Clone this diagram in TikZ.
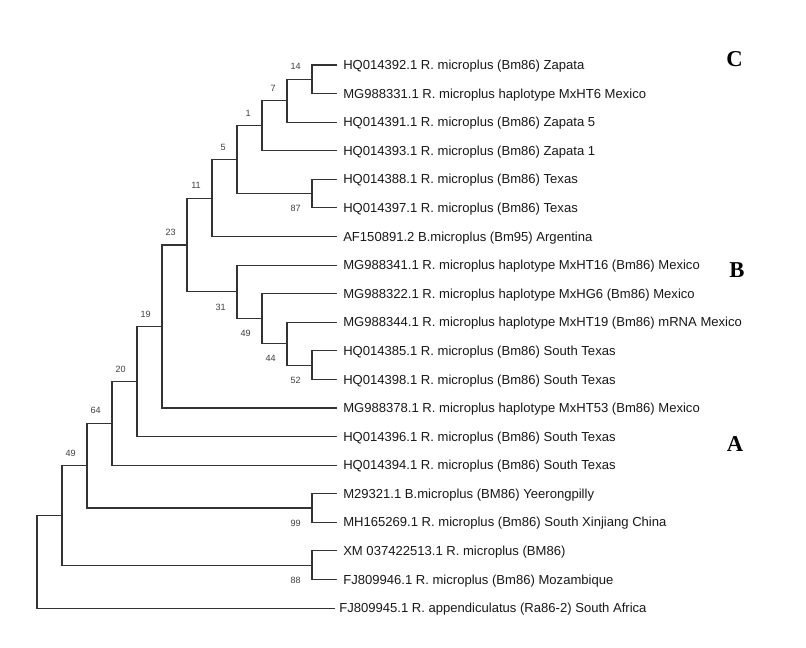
\documentclass[tikz,border=0pt]{standalone}
\usepackage{fontspec}
\setmainfont{Liberation Sans}
\newfontfamily\cladefont{Liberation Serif}
\begin{document}
\begin{tikzpicture}[x=0.75pt,y=-0.75pt,
  branch/.style={draw=black!80,line width=0.8pt},
  leaf/.style={anchor=west,inner xsep=4.5pt,inner ysep=0pt,text height=7pt,text depth=0pt,font=\fontsize{9.8}{11}\selectfont,text=black!90},
  bsup/.style={anchor=east,inner sep=0pt,xshift=-8.3pt,yshift=9.4pt,font=\fontsize{6.8}{7}\selectfont,text=black!75},
  bsdown/.style={anchor=east,inner sep=0pt,xshift=-8.3pt,yshift=-11.3pt,font=\fontsize{6.8}{7}\selectfont,text=black!75},
  clade/.style={font=\cladefont\bfseries\fontsize{17}{18}\selectfont,inner sep=0pt}]
\useasboundingbox[fill=white] (0,0) rectangle (806,647);
% leaves
\node[leaf] (L1) at (337,65) {HQ014392.1 R. microplus (Bm86) Zapata};
\node[leaf] (L2) at (337,93.58) {MG988331.1 R. microplus haplotype MxHT6 Mexico};
\node[leaf] (L3) at (337,122.16) {HQ014391.1 R. microplus (Bm86) Zapata 5};
\node[leaf] (L4) at (337,150.74) {HQ014393.1 R. microplus (Bm86) Zapata 1};
\node[leaf] (L5) at (337,179.32) {HQ014388.1 R. microplus (Bm86) Texas};
\node[leaf] (L6) at (337,207.9) {HQ014397.1 R. microplus (Bm86) Texas};
\node[leaf] (L7) at (337,236.48) {AF150891.2 B.microplus (Bm95) Argentina};
\node[leaf] (L8) at (337,265.06) {MG988341.1 R. microplus haplotype MxHT16 (Bm86) Mexico};
\node[leaf] (L9) at (337,293.64) {MG988322.1 R. microplus haplotype MxHG6 (Bm86) Mexico};
\node[leaf] (L10) at (337,322.22) {MG988344.1 R. microplus haplotype MxHT19 (Bm86) mRNA Mexico};
\node[leaf] (L11) at (337,350.8) {HQ014385.1 R. microplus (Bm86) South Texas};
\node[leaf] (L12) at (337,379.38) {HQ014398.1 R. microplus (Bm86) South Texas};
\node[leaf] (L13) at (337,407.96) {MG988378.1 R. microplus haplotype MxHT53 (Bm86) Mexico};
\node[leaf] (L14) at (337,436.54) {HQ014396.1 R. microplus (Bm86) South Texas};
\node[leaf] (L15) at (337,465.12) {HQ014394.1 R. microplus (Bm86) South Texas};
\node[leaf] (L16) at (337,493.7) {M29321.1 B.microplus (BM86) Yeerongpilly};
\node[leaf] (L17) at (337,522.28) {MH165269.1 R. microplus (Bm86) South Xinjiang China};
\node[leaf] (L18) at (337,550.86) {XM 037422513.1 R. microplus (BM86)};
\node[leaf] (L19) at (337,579.44) {FJ809946.1 R. microplus (Bm86) Mozambique};
\node[leaf,inner xsep=3pt] (L20) at (335,608.02) {FJ809945.1 R. appendiculatus (Ra86-2) South Africa};
% internal nodes
\coordinate (n14) at (312,79.29);
\coordinate (n7) at (287,100.7);
\coordinate (n1) at (262,125.7);
\coordinate (n87) at (312,193.6);
\coordinate (n5) at (237,159.7);
\coordinate (n11) at (212,198.1);
\coordinate (n52) at (312,365.1);
\coordinate (n44) at (287,343.7);
\coordinate (n49b) at (262,318.7);
\coordinate (n31) at (237,291.9);
\coordinate (n23) at (187,245);
\coordinate (n19) at (162,326.5);
\coordinate (n20) at (137,381.5);
\coordinate (n64) at (112,423.3);
\coordinate (n99) at (312,508);
\coordinate (n49a) at (87,465.7);
\coordinate (n88) at (312,565.15);
\coordinate (nr1) at (62,515.4);
\coordinate (root) at (37,561.7);
% branches
\draw[branch] (L1.west) -| (n14) |- (L2.west);
\draw[branch] (n14) -| (n7) |- (L3.west);
\draw[branch] (n7) -| (n1) |- (L4.west);
\draw[branch] (L5.west) -| (n87) |- (L6.west);
\draw[branch] (n1) -| (n5) |- (n87);
\draw[branch] (n5) -| (n11) |- (L7.west);
\draw[branch] (L11.west) -| (n52) |- (L12.west);
\draw[branch] (L10.west) -| (n44) |- (n52);
\draw[branch] (L9.west) -| (n49b) |- (n44);
\draw[branch] (L8.west) -| (n31) |- (n49b);
\draw[branch] (n11) -| (n23) |- (n31);
\draw[branch] (n23) -| (n19) |- (L13.west);
\draw[branch] (n19) -| (n20) |- (L14.west);
\draw[branch] (n20) -| (n64) |- (L15.west);
\draw[branch] (L16.west) -| (n99) |- (L17.west);
\draw[branch] (n64) -| (n49a) |- (n99);
\draw[branch] (L18.west) -| (n88) |- (L19.west);
\draw[branch] (n49a) -| (nr1) |- (n88);
\draw[branch] (nr1) -| (root) |- (L20.west);
% bootstrap values
\node[bsup] (b14) at (n14) {14};
\node[bsup] (b7) at (n7) {7};
\node[bsup] (b1) at (n1) {1};
\node[bsup] (b5) at (n5) {5};
\node[bsup] (b11) at (n11) {11};
\node[bsup] (b23) at (n23) {23};
\node[bsup] (b19) at (n19) {19};
\node[bsup] (b20) at (n20) {20};
\node[bsup] (b64) at (n64) {64};
\node[bsup] (b49a) at (n49a) {49};
\node[bsdown] (b87) at (n87) {87};
\node[bsdown] (b31) at (n31) {31};
\node[bsdown] (b49b) at (n49b) {49};
\node[bsdown] (b44) at (n44) {44};
\node[bsdown] (b52) at (n52) {52};
\node[bsdown] (b99) at (n99) {99};
\node[bsdown] (b88) at (n88) {88};
% clade letters
\node[clade] (cC) at (734.5,59.5) {C};
\node[clade] (cB) at (737,270.5) {B};
\node[clade] (cA) at (735,444) {A};
\end{tikzpicture}
\end{document}
